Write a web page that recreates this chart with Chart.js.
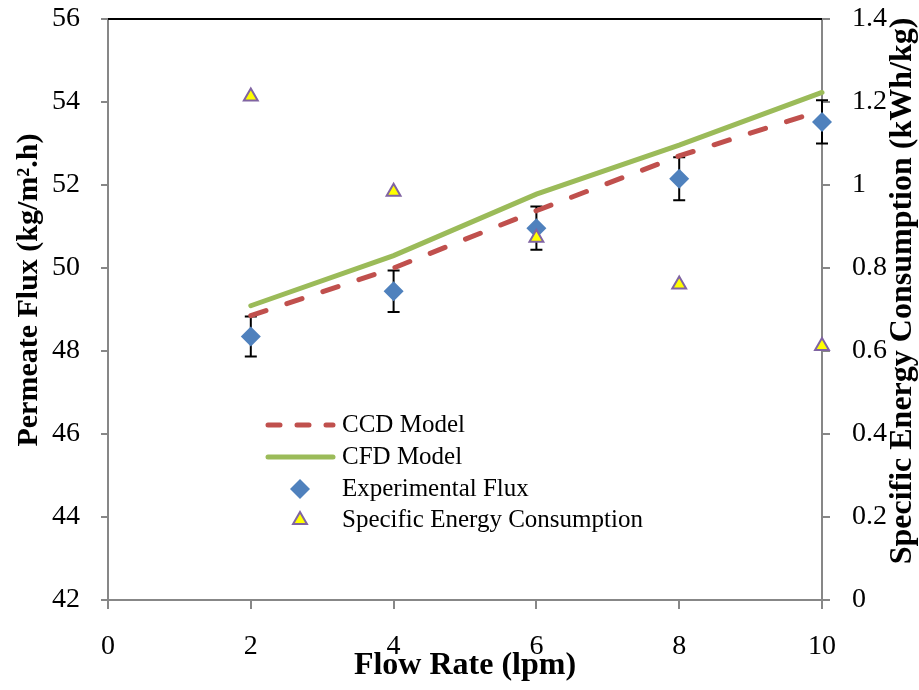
<!DOCTYPE html>
<html>
<head>
<meta charset="utf-8">
<title>Permeate flux and specific energy consumption vs flow rate</title>
<script src="https://cdn.jsdelivr.net/npm/chart.js@4/dist/chart.umd.min.js"></script>
<style>
  html, body { margin: 0; padding: 0; background: #ffffff; }
  #wrap { width: 919px; height: 690px; position: relative; }
</style>
</head>
<body>
<div id="wrap"><canvas id="chart" width="919" height="690"></canvas></div>
<script>
// Flow rates (lpm)
const flowRates = [2, 4, 6, 8, 10];
// Permeate flux, kg/m2.h
const ccdModel = [48.85, 50.0, 51.38, 52.70, 53.80];
const cfdModel = [49.09, 50.30, 51.78, 52.96, 54.23];
const experimentalFlux = [48.35, 49.44, 50.96, 52.15, 53.52];
const fluxError = [0.48, 0.50, 0.52, 0.52, 0.52];
// Specific energy consumption, kWh/kg
const specificEnergy = [1.213, 0.984, 0.873, 0.760, 0.612];

const xTicks = [0, 2, 4, 6, 8, 10];
const fluxTicks = [42, 44, 46, 48, 50, 52, 54, 56];
const energyTicks = [0, 0.2, 0.4, 0.6, 0.8, 1, 1.2, 1.4];

const legendLabels = ['CCD Model', 'CFD Model', 'Experimental Flux', 'Specific Energy Consumption'];
const leftTitle = 'Permeate Flux (kg/m\u00B2.h)';
const rightTitle = 'Specific Energy Consumption (kWh/kg)';

const SERIF = "'Liberation Serif', 'Times New Roman', serif";
const AXIS_GREY = '#878787';

const pairs = (xs, ys) => xs.map((x, i) => ({ x: x, y: ys[i] }));

// Vertical error bars on the experimental flux points
const errorBars = {
  id: 'errorBars',
  beforeDatasetsDraw(chart) {
    const { ctx, scales } = chart;
    ctx.save();
    ctx.strokeStyle = '#000000';
    ctx.lineWidth = 2;
    flowRates.forEach((f, i) => {
      const px = scales.x.getPixelForValue(f);
      const yHi = scales.y.getPixelForValue(experimentalFlux[i] + fluxError[i]);
      const yLo = scales.y.getPixelForValue(experimentalFlux[i] - fluxError[i]);
      ctx.beginPath();
      ctx.moveTo(px, yHi); ctx.lineTo(px, yLo);
      ctx.moveTo(px - 6, yHi); ctx.lineTo(px + 6, yHi);
      ctx.moveTo(px - 6, yLo); ctx.lineTo(px + 6, yLo);
      ctx.stroke();
    });
    ctx.restore();
  }
};

function drawMarkerPath(ctx, style, r, x, y) {
  if (style === 'rectRot') {
    ctx.moveTo(x, y - r); ctx.lineTo(x + r, y); ctx.lineTo(x, y + r); ctx.lineTo(x - r, y); ctx.closePath();
  } else {
    // equilateral triangle, same geometry as Chart.js 'triangle'
    const a = -Math.PI / 2;
    ctx.moveTo(x + Math.cos(a) * r, y + Math.sin(a) * r);
    ctx.lineTo(x + Math.cos(a + 2 * Math.PI / 3) * r, y + Math.sin(a + 2 * Math.PI / 3) * r);
    ctx.lineTo(x + Math.cos(a + 4 * Math.PI / 3) * r, y + Math.sin(a + 4 * Math.PI / 3) * r);
    ctx.closePath();
  }
}

function verticalTitle(ctx, text, x, y, size) {
  ctx.save();
  ctx.translate(x, y);
  ctx.rotate(-Math.PI / 2);
  ctx.font = 'bold ' + size + 'px ' + SERIF;
  ctx.fillStyle = '#000000';
  ctx.textAlign = 'center';
  ctx.textBaseline = 'middle';
  ctx.fillText(text, 0, 0);
  ctx.restore();
}

// Top frame line, vertical axis titles and the in-plot legend
const decorations = {
  id: 'decorations',
  afterDraw(chart) {
    const { ctx, chartArea } = chart;
    ctx.save();
    // top edge of the plot area
    ctx.strokeStyle = '#000000';
    ctx.lineWidth = 2;
    ctx.beginPath();
    ctx.moveTo(chartArea.left, chartArea.top);
    ctx.lineTo(chartArea.right, chartArea.top);
    ctx.stroke();

    // axis titles, reading bottom to top
    verticalTitle(ctx, leftTitle, 29, 290, 30);
    verticalTitle(ctx, rightTitle, 903, 291, 32);

    // legend
    const ds = chart.data.datasets;
    const x0 = chartArea.left + 157;
    const rowY = [chartArea.top + 406, chartArea.top + 438, chartArea.top + 470, chartArea.top + 501];
    ctx.font = '25px ' + SERIF;
    ctx.textAlign = 'left';
    ctx.textBaseline = 'middle';
    ds.forEach((d, i) => {
      const y = rowY[i];
      ctx.save();
      if (d.showLine !== false) {
        ctx.strokeStyle = d.borderColor;
        ctx.lineWidth = d.borderWidth;
        ctx.lineCap = 'round';
        ctx.setLineDash(d.legendDash || []);
        ctx.beginPath();
        ctx.moveTo(x0 + 3, y);
        ctx.lineTo(x0 + 68, y);
        ctx.stroke();
      } else {
        ctx.fillStyle = d.backgroundColor;
        ctx.strokeStyle = d.borderColor;
        ctx.lineWidth = d.borderWidth;
        ctx.beginPath();
        drawMarkerPath(ctx, d.pointStyle, d.pointRadius, x0 + 35, y);
        ctx.fill();
        if (d.borderWidth) ctx.stroke();
      }
      ctx.restore();
      ctx.fillStyle = '#000000';
      ctx.fillText(legendLabels[i], x0 + 77, y);
    });
    ctx.restore();
  }
};

const tickFont = { family: SERIF, size: 28 };
const titleFont = { family: SERIF, size: 32, weight: 'bold', lineHeight: 1 };
const noEdgePadding = (s) => { s.paddingTop = 0; s.paddingBottom = 0; };

new Chart(document.getElementById('chart'), {
  type: 'line',
  data: {
    datasets: [
      {
        label: legendLabels[0],
        data: pairs(flowRates, ccdModel),
        yAxisID: 'y',
        borderColor: '#C0504D',
        backgroundColor: '#C0504D',
        borderWidth: 5,
        borderDash: [16, 22],
        legendDash: [12, 17],
        borderCapStyle: 'round',
        pointRadius: 0,
        tension: 0,
        clip: false,
        order: 3
      },
      {
        label: legendLabels[1],
        data: pairs(flowRates, cfdModel),
        yAxisID: 'y',
        borderColor: '#9BBB59',
        backgroundColor: '#9BBB59',
        borderWidth: 5,
        borderCapStyle: 'round',
        pointRadius: 0,
        tension: 0,
        clip: false,
        order: 2
      },
      {
        label: legendLabels[2],
        data: pairs(flowRates, experimentalFlux),
        yAxisID: 'y',
        showLine: false,
        pointStyle: 'rectRot',
        pointRadius: 10,
        pointHoverRadius: 10,
        backgroundColor: '#4F81BD',
        borderColor: '#4F81BD',
        borderWidth: 0,
        clip: false,
        order: 1
      },
      {
        label: legendLabels[3],
        data: pairs(flowRates, specificEnergy),
        yAxisID: 'y1',
        showLine: false,
        pointStyle: 'triangle',
        pointRadius: 8,
        pointHoverRadius: 8,
        backgroundColor: '#FFFF00',
        borderColor: '#8064A2',
        borderWidth: 2,
        clip: false,
        order: 0
      }
    ]
  },
  options: {
    responsive: false,
    animation: false,
    events: [],
    layout: { padding: { top: 19, left: 0, right: 0, bottom: 0 } },
    plugins: {
      legend: { display: false },
      tooltip: { enabled: false }
    },
    scales: {
      x: {
        type: 'linear',
        min: 0, max: 10,
        afterBuildTicks: (s) => { s.ticks = xTicks.map(v => ({ value: v })); },
        afterFit: (s) => { s.height = 90; s.paddingLeft = 0; s.paddingRight = 0; },
        ticks: { font: tickFont, color: '#000000', padding: 21, maxRotation: 0 },
        grid: { drawOnChartArea: false, drawTicks: true, tickLength: 9, color: AXIS_GREY, lineWidth: 2 },
        border: { color: AXIS_GREY, width: 2 },
        title: { display: true, text: 'Flow Rate (lpm)', font: titleFont, color: '#000000', padding: { top: 0, bottom: 8 } }
      },
      y: {
        type: 'linear',
        position: 'left',
        min: 42, max: 56,
        afterBuildTicks: (s) => { s.ticks = fluxTicks.map(v => ({ value: v })); },
        afterFit: (s) => { s.width = 108; noEdgePadding(s); },
        ticks: { font: tickFont, color: '#000000', padding: 21 },
        grid: { drawOnChartArea: false, drawTicks: true, tickLength: 7, color: AXIS_GREY, lineWidth: 2 },
        border: { color: AXIS_GREY, width: 2 }
      },
      y1: {
        type: 'linear',
        position: 'right',
        min: 0, max: 1.4,
        afterBuildTicks: (s) => { s.ticks = energyTicks.map(v => ({ value: v })); },
        afterFit: (s) => { s.width = 97; noEdgePadding(s); },
        ticks: { font: tickFont, color: '#000000', padding: 22, callback: (v) => String(+v.toFixed(1)) },
        grid: { drawOnChartArea: false, drawTicks: true, tickLength: 8, color: AXIS_GREY, lineWidth: 2 },
        border: { color: AXIS_GREY, width: 2 }
      }
    }
  },
  plugins: [errorBars, decorations]
});
</script>
</body>
</html>
